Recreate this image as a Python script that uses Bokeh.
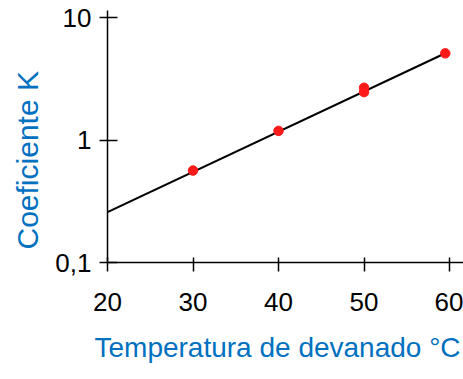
from bokeh.plotting import figure
from bokeh.models import FixedTicker, Title
from bokeh.embed import file_html
from bokeh.resources import INLINE

# Data
temp = [30, 40, 50, 50, 59.5]
coef_k = [0.564, 1.19, 2.47, 2.68, 5.12]
fit_x = [20, 59.5]
fit_y = [0.258, 5.13]

x_ticks = [20, 30, 40, 50, 60]
y_ticks = [0.1, 1, 10]
y_tick_labels = ["0,1", "1", "10"]
x_title = "Temperatura de devanado °C"
y_title = "Coeficiente K"

# style / layout
FONT = "Liberation Sans"
BLUE = "#0070C0"
RED = "#ff1a1a"

p = figure(width=463, height=379, x_range=(20, 61.63), y_range=(0.1, 11.47),
           y_axis_type="log", output_backend="svg", toolbar_location=None)
p.outline_line_color = None
p.xgrid.visible = False
p.ygrid.visible = False
p.background_fill_color = "white"
p.border_fill_color = "white"
p.min_border_top = 10
p.min_border_right = 0
p.min_border_left = 106
p.min_border_bottom = 116

p.line(fit_x, fit_y, line_color="black", line_width=2)
p.scatter(temp, coef_k, size=9.5, fill_color=RED, line_color=RED)

xa = p.xaxis[0]
xa.ticker = FixedTicker(ticks=x_ticks)
xa.minor_tick_line_color = None
xa.major_tick_in = 5
xa.major_tick_out = 9
xa.axis_line_width = 1.5
xa.major_tick_line_width = 1.5
xa.major_label_text_font = FONT
xa.major_label_text_font_size = "26px"
xa.major_label_text_color = "black"
xa.major_label_standoff = 21

ya = p.yaxis[0]
ya.ticker = FixedTicker(ticks=y_ticks)
ya.minor_tick_line_color = None
ya.major_tick_in = 10
ya.major_tick_out = 8
ya.axis_line_width = 1.5
ya.major_tick_line_width = 1.5
ya.major_label_overrides = dict(zip(y_ticks, y_tick_labels))
ya.major_label_text_font = FONT
ya.major_label_text_font_size = "26px"
ya.major_label_text_color = "black"
ya.major_label_standoff = 8

tx = Title(text=x_title, align="left", offset=-13, standoff=33,
           text_font=FONT, text_font_size="28px", text_font_style="normal",
           text_color=BLUE)
p.add_layout(tx, "below")

ty = Title(text=y_title, align="left", offset=13, standoff=17,
           text_font=FONT, text_font_size="30px", text_font_style="normal",
           text_color=BLUE)
p.add_layout(ty, "left")

open("out.html", "w").write(file_html(p, INLINE))
